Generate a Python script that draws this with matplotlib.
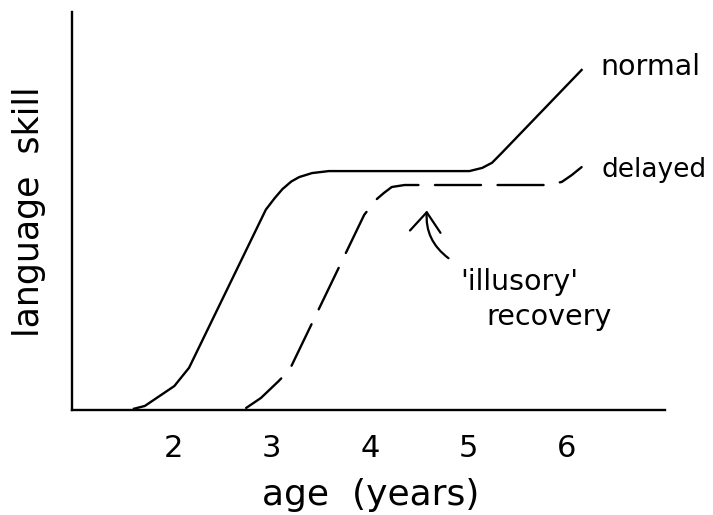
import numpy as np
import matplotlib
matplotlib.use("Agg")
import matplotlib.pyplot as plt

# curves (age in years, skill in arbitrary units)
normal_age = [1.60, 1.71, 1.83, 2.01, 2.16, 2.94, 3.03, 3.11, 3.20, 3.28, 3.41, 3.58,
              5.01, 5.14, 5.24, 5.34, 6.15]
normal_skill = [0.03, 0.10, 0.30, 0.60, 1.06, 5.03, 5.32, 5.55, 5.74, 5.85, 5.95, 6.0,
                6.0, 6.08, 6.21, 6.46, 8.54]

delayed_age = [2.74, 2.89, 3.06, 3.18, 3.94, 4.06, 4.14, 4.22, 4.35, 5.82, 5.95, 6.05, 6.15]
delayed_skill = [0.05, 0.30, 0.70, 1.0, 4.90, 5.28, 5.45, 5.60, 5.65, 5.65, 5.73, 5.90, 6.10]

age_ticks = [2, 3, 4, 5, 6]

plt.rcParams['font.family'] = ['DejaVu Sans']

fig = plt.figure(figsize=(7.13, 5.15), dpi=100)
ax = fig.add_axes([0.101, 0.204, 0.832, 0.773])

ax.plot(normal_age, normal_skill, color='black', lw=1.7, solid_joinstyle='round')
ax.plot(delayed_age, delayed_skill, color='black', lw=1.7, dashes=(19.5, 7),
        dash_capstyle='round')

ax.set_xlim(0.97, 7.0)
ax.set_ylim(0, 10)

for s in ['top', 'right']:
    ax.spines[s].set_visible(False)
for s in ['left', 'bottom']:
    ax.spines[s].set_linewidth(1.7)

ax.set_xticks(age_ticks)
ax.set_xticklabels([str(a) for a in age_ticks], fontsize=22)
ax.set_yticks([])
ax.tick_params(axis='x', length=0, pad=17)

# axis titles
fig.text(0.520, 0.0194, 'age  (years)', fontsize=26, ha='center', va='baseline')
fig.text(0.0407, 0.588, 'language  skill', fontsize=25, rotation=90,
         ha='center', va='center')

ax.text(6.345, 8.42, 'normal', fontsize=20.5, va='baseline', ha='left')
ax.text(6.355, 5.85, 'delayed', fontsize=19, va='baseline', ha='left')
ax.text(4.92, 3.02, "'illusory'", fontsize=20.5, va='baseline', ha='left')
ax.text(5.18, 2.14, 'recovery', fontsize=20.5, va='baseline', ha='left')

ax.annotate('', xy=(4.58, 5.08), xytext=(4.82, 3.77),
            arrowprops=dict(arrowstyle='->,head_length=1.4,head_width=1.1',
                            color='black', lw=1.6,
                            connectionstyle='arc3,rad=-0.3'))

fig.savefig('out.png', dpi=100)
